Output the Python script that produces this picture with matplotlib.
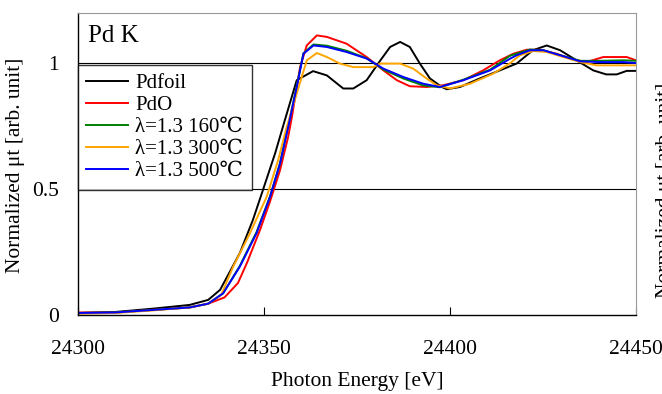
"""
Pd K-edge XANES: normalized absorption of Pd foil, PdO and lambda=1.3 samples.
"""

import matplotlib
matplotlib.use("Agg")
import matplotlib.pyplot as plt

plt.rcParams['font.family'] = ['Liberation Serif', 'DejaVu Serif', 'Noto Sans CJK JP']

# values (energy in eV, normalized mu t)
pdfoil_e = [24300, 24310, 24320, 24330, 24335, 24338.2, 24343.5, 24347, 24349.7, 24353,
            24355.6, 24358.8, 24363.2, 24366.9, 24371.3, 24374, 24377.6, 24381.2, 24383.9,
            24386.6, 24389.2, 24391.9, 24394.6, 24397.8, 24399.1, 24402.7, 24408, 24413.4,
            24417.9, 24422.3, 24426, 24429.6, 24434, 24438.5, 24442, 24444.8, 24447.5, 24450]
pdfoil_mu = [0.008, 0.012, 0.025, 0.04, 0.06, 0.10, 0.246, 0.377, 0.496, 0.643,
             0.774, 0.933, 0.969, 0.952, 0.90, 0.90, 0.933, 1.01, 1.065,
             1.085, 1.065, 0.999, 0.94, 0.906, 0.897, 0.906, 0.94, 0.972,
             0.999, 1.052, 1.071, 1.052, 1.012, 0.972, 0.956, 0.956, 0.97, 0.97]

pdo_e = [24300, 24310, 24320, 24330, 24335, 24339.4, 24343, 24345.5, 24348.9, 24351.6,
         24354.3, 24356.5, 24357.5, 24359.7, 24361.5, 24364.2, 24366.9, 24372.2, 24377.6,
         24382.1, 24385.7, 24389.2, 24393.7, 24398.2, 24403.6, 24408.9, 24413.4, 24417,
         24420.6, 24424.2, 24428.7, 24433.2, 24436.7, 24441.2, 24447.5, 24450]
pdo_mu = [0.01, 0.01, 0.02, 0.03, 0.045, 0.07, 0.127, 0.21, 0.337, 0.45,
          0.575, 0.708, 0.787, 0.985, 1.071, 1.111, 1.105, 1.078, 1.025,
          0.972, 0.933, 0.909, 0.906, 0.913, 0.933, 0.972, 1.012, 1.038,
          1.054, 1.054, 1.038, 1.015, 1.005, 1.025, 1.025, 1.012]

s160_e = [24300, 24310, 24320, 24330, 24335, 24339, 24343.5, 24348, 24351.6, 24354.3,
          24356.5, 24358.8, 24360.6, 24363.3, 24366.9, 24372.2, 24377.6, 24382.1, 24387.4,
          24392.8, 24397.3, 24403.6, 24410.8, 24416.1, 24421.5, 24425.1, 24429.6, 24435,
          24440.3, 24446.6, 24450]
s160_mu = [0.008, 0.01, 0.02, 0.03, 0.045, 0.086, 0.195, 0.33, 0.47, 0.602,
           0.75, 0.91, 1.04, 1.075, 1.07, 1.05, 1.02, 0.975, 0.94,
           0.912, 0.905, 0.935, 0.975, 1.03, 1.055, 1.052, 1.032, 1.01,
           1.01, 1.012, 1.01]

s300_e = [24300, 24310, 24320, 24330, 24335, 24338.5, 24341.7, 24346.2, 24350.7, 24353.8,
          24356.1, 24358.8, 24361.5, 24364.2, 24366.9, 24370.4, 24374, 24379.4, 24381.2,
          24386.6, 24390.1, 24393.7, 24396.4, 24400, 24405.4, 24411.6, 24416.1, 24418.8,
          24422.4, 24426, 24430.5, 24435, 24439.4, 24444.8, 24450]
s300_mu = [0.005, 0.008, 0.018, 0.03, 0.045, 0.08, 0.192, 0.324, 0.469, 0.615,
           0.747, 0.88, 1.012, 1.041, 1.025, 0.999, 0.985, 0.985, 0.999,
           0.999, 0.979, 0.94, 0.913, 0.90, 0.919, 0.959, 1.0, 1.032,
           1.049, 1.045, 1.025, 1.005, 0.992, 0.992, 0.992]

s500_e = [24300, 24310, 24320, 24330, 24335, 24339, 24343.5, 24348, 24351.6, 24354.3,
          24356.5, 24358.8, 24360.6, 24363.3, 24366.9, 24372.2, 24377.6, 24382.1, 24387.4,
          24392.8, 24397.3, 24403.6, 24410.8, 24416.1, 24417.9, 24421.5, 24425.1, 24429.6,
          24435, 24440.3, 24446.6, 24450]
s500_mu = [0.008, 0.01, 0.02, 0.03, 0.045, 0.086, 0.192, 0.325, 0.469, 0.602,
           0.747, 0.906, 1.038, 1.071, 1.065, 1.045, 1.019, 0.979, 0.946,
           0.919, 0.906, 0.933, 0.972, 1.018, 1.032, 1.052, 1.052, 1.032,
           1.008, 1.005, 1.005, 1.001]

labels = ['Pdfoil', 'PdO', 'λ=1.3 160℃', 'λ=1.3 300℃', 'λ=1.3 500℃']
colors = ['black', '#ff0000', '#008000', '#ffa500', '#0000ff']
x_ticks = [24300, 24350, 24400, 24450]
y_ticks = [0, 0.5, 1]
y_ticklabels = ['0', '0.5', '1']

fig = plt.figure(figsize=(6.62, 3.94), dpi=100)
ax = fig.add_axes([78 / 662, 1 - 315 / 394, 558 / 662, 302 / 394])

series = [(pdfoil_e, pdfoil_mu), (pdo_e, pdo_mu), (s160_e, s160_mu),
          (s300_e, s300_mu), (s500_e, s500_mu)]
for (e, mu), lab, col in zip(series, labels, colors):
    ax.plot(e, mu, color=col, lw=1.4, label=lab)

ax.set_xlim(24300, 24450)
ax.set_ylim(0, 1.2)
ax.set_xticks(x_ticks)
ax.set_yticks(y_ticks)
ax.set_yticklabels(y_ticklabels)
ax.tick_params(axis='x', direction='in', length=6, pad=18, labelsize=15.5)
ax.tick_params(axis='y', length=0, pad=14, labelsize=15.5)
for y in [0.5, 1]:
    ax.axhline(y, color='black', lw=0.8, zorder=0)

ax.spines['top'].set_color('#999999')
ax.spines['right'].set_color('#999999')
for s in ['left', 'bottom']:
    ax.spines[s].set_color('black')
    ax.spines[s].set_linewidth(1.0)

ax.set_xlabel('Photon Energy [eV]', fontsize=15.5)
ax.xaxis.set_label_coords(0.5, -0.188)
fig.text(16 / 662, 1 - 165 / 394, 'Normalized μt [arb. unit]', rotation=90,
         ha='center', va='center', fontsize=15.5)
# second axis title, cut by the right edge as in the source figure
fig.text(656 / 662, 1 - 190 / 394, 'Normalized μt [arb. unit]', rotation=90,
         ha='left', va='center', fontsize=15.5)

ax.text(0.018, 0.96, 'Pd K', transform=ax.transAxes, ha='left', va='top', fontsize=18)

leg = ax.legend(loc='upper left', bbox_to_anchor=(0, 250 / 302), borderaxespad=0,
                fontsize=15, frameon=True, fancybox=False, edgecolor='black',
                handlelength=2.0, handletextpad=0.35, labelspacing=0.12, borderpad=0.4)
leg.get_frame().set_linewidth(1.0)

fig.savefig('out.png', dpi=100)
